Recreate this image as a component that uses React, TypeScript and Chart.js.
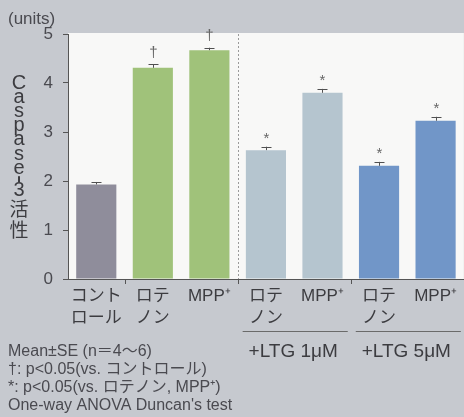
import React, { useEffect, useRef } from "react";
import { Chart, registerables } from "chart.js";

Chart.register(...registerables);

const categories: (string | string[])[] = [
  ["コント", "ロール"],
  ["ロテ", "ノン"],
  "MPP⁺",
  ["ロテ", "ノン"],
  "MPP⁺",
  ["ロテ", "ノン"],
  "MPP⁺",
];
const values = [1.93, 4.31, 4.67, 2.63, 3.8, 2.31, 3.23];
const errors = [0.05, 0.07, 0.05, 0.07, 0.08, 0.08, 0.08];
const marks = ["", "†", "†", "*", "*", "*", "*"];
const barColors = ["#8f8d9b", "#a0c27a", "#a0c27a", "#b5c5cf", "#b5c5cf", "#7196c8", "#7196c8"];
const groupLabels = ["+LTG 1μM", "+LTG 5μM"];
const groupRanges = [
  [3, 4],
  [5, 6],
];
const footnotes = [
  "Mean±SE (n＝4～6)",
  "†: p<0.05(vs. コントロール)",
  "*: p<0.05(vs. ロテノン, MPP⁺)",
  "One-way ANOVA Duncan's test",
];
const yTitleChars = ["C", "a", "s", "p", "a", "s", "e", "-", "3", "活", "性"];
const unitLabel = "(units)";

const FONT = '"Liberation Sans", "Noto Sans CJK JP", sans-serif';
const TEXT = "#3c3c40";

const decor = {
  id: "decor",
  beforeDraw(chart: any) {
    const { ctx, chartArea: a, width, height } = chart;
    ctx.save();
    ctx.fillStyle = "#c6c9cf";
    ctx.fillRect(0, 0, width, height);
    ctx.fillStyle = "#f8f8f7";
    ctx.fillRect(a.left, a.top - 1, a.right - a.left, a.bottom - a.top + 1);
    ctx.restore();
  },
  beforeDatasetsDraw(chart: any) {
    const { ctx, chartArea: a, scales } = chart;
    const x = scales.x;
    const sep = (x.getPixelForValue(2) + x.getPixelForValue(3)) / 2;
    ctx.save();
    ctx.strokeStyle = "#9a9a9a";
    ctx.lineWidth = 1;
    ctx.setLineDash([2, 2]);
    ctx.beginPath();
    ctx.moveTo(Math.round(sep) + 0.5, a.top);
    ctx.lineTo(Math.round(sep) + 0.5, a.bottom);
    ctx.stroke();
    ctx.restore();
  },
  afterDatasetsDraw(chart: any) {
    const { ctx, scales } = chart;
    const x = scales.x;
    const y = scales.y;
    ctx.save();
    values.forEach((v, i) => {
      const px = Math.round(x.getPixelForValue(i)) + 0.5;
      const top = y.getPixelForValue(v);
      const cap = y.getPixelForValue(v + errors[i]);
      ctx.strokeStyle = "#505050";
      ctx.lineWidth = 1;
      ctx.beginPath();
      ctx.moveTo(px, top);
      ctx.lineTo(px, cap);
      ctx.moveTo(px - 5, Math.round(cap) + 0.5);
      ctx.lineTo(px + 5, Math.round(cap) + 0.5);
      ctx.stroke();
      if (marks[i]) {
        ctx.fillStyle = "#666";
        ctx.font = `15px ${FONT}`;
        ctx.textAlign = "center";
        ctx.textBaseline = "middle";
        ctx.fillText(marks[i], px, cap - (marks[i] === "*" ? 8 : 12));
      }
    });
    ctx.restore();
  },
  afterDraw(chart: any) {
    const { ctx, chartArea: a, scales } = chart;
    const x = scales.x;
    const slot = x.getPixelForValue(1) - x.getPixelForValue(0);
    ctx.save();
    ctx.strokeStyle = "#555";
    ctx.lineWidth = 1;
    [
      [0, 1],
      [2, 3],
      [4, 5],
    ].forEach(([i, j]) => {
      const px = Math.round((x.getPixelForValue(i) + x.getPixelForValue(j)) / 2) + 0.5;
      ctx.beginPath();
      ctx.moveTo(px, a.bottom);
      ctx.lineTo(px, a.bottom + 5);
      ctx.stroke();
    });
    groupRanges.forEach(([i0, i1], g) => {
      const l = x.getPixelForValue(i0) - slot / 2 + 5;
      const r = Math.min(x.getPixelForValue(i1) + slot / 2 - 3, chart.width);
      ctx.strokeStyle = "#6a6a6a";
      ctx.beginPath();
      ctx.moveTo(l, 331.5);
      ctx.lineTo(r, 331.5);
      ctx.stroke();
      ctx.fillStyle = TEXT;
      ctx.font = `19px ${FONT}`;
      ctx.textAlign = "center";
      ctx.textBaseline = "middle";
      ctx.fillText(groupLabels[g], (l + r) / 2 - 2, 352);
    });
    ctx.fillStyle = "#4a4a50";
    ctx.font = `16px ${FONT}`;
    ctx.textAlign = "left";
    ctx.textBaseline = "middle";
    footnotes.forEach((t, k) => ctx.fillText(t, 8, 352 + k * 18));
    ctx.font = `17px ${FONT}`;
    ctx.fillText(unitLabel, 8, 19);
    ctx.fillStyle = TEXT;
    ctx.textAlign = "center";
    let yy = 83;
    yTitleChars.forEach((c, k) => {
      const cjk = /[\u3000-\u9fff]/.test(c);
      if (c === "-") {
        ctx.fillRect(18, yy - 3, 2, 6);
      } else {
        ctx.font = cjk ? `19px "Noto Sans CJK JP"` : `20px ${FONT}`;
        ctx.fillText(c, 19, yy);
      }
      const next = yTitleChars[k + 1];
      if (!next) return;
      if (c === "-" || next === "-") yy += 11;
      else if (/[\u3000-\u9fff]/.test(next)) yy += c === "3" ? 19 : 21;
      else yy += 14.2;
    });
    ctx.restore();
  },
};

export default function App() {
  const ref = useRef<HTMLCanvasElement>(null);
  useEffect(() => {
    document.body.style.margin = "0";
    const chart = new Chart(ref.current!, {
      type: "bar",
      data: {
        labels: categories,
        datasets: [
          {
            data: values,
            backgroundColor: barColors,
            borderWidth: 0,
            barPercentage: 0.71,
            categoryPercentage: 1,
          },
        ],
      },
      options: {
        animation: false,
        responsive: false,
        devicePixelRatio: 1,
        layout: { padding: { top: 34, left: 0, right: 0, bottom: 0 } },
        plugins: { legend: { display: false }, tooltip: { enabled: false } },
        scales: {
          x: {
            grid: { display: false, drawTicks: false },
            border: { display: true, color: "#555", width: 1 },
            ticks: {
              color: TEXT,
              padding: 7,
              maxRotation: 0,
              autoSkip: false,
              font: { family: FONT, size: 17, lineHeight: 1.25 },
            },
            afterFit(scale: any) {
              scale.height = 138;
            },
          },
          y: {
            min: 0,
            max: 5,
            ticks: {
              stepSize: 1,
              color: "#4a4a50",
              padding: 10,
              font: { family: FONT, size: 17 },
            },
            grid: { display: true, drawOnChartArea: false, drawTicks: true, tickLength: 5, color: "#555" },
            border: { display: true, color: "#555", width: 1 },
            afterFit(scale: any) {
              scale.width = 68;
            },
          },
        },
      },
      plugins: [decor],
    });
    return () => chart.destroy();
  }, []);
  return (
    <div style={{ width: 464, height: 417 }}>
      <canvas ref={ref} width={464} height={417} style={{ display: "block" }} />
    </div>
  );
}
